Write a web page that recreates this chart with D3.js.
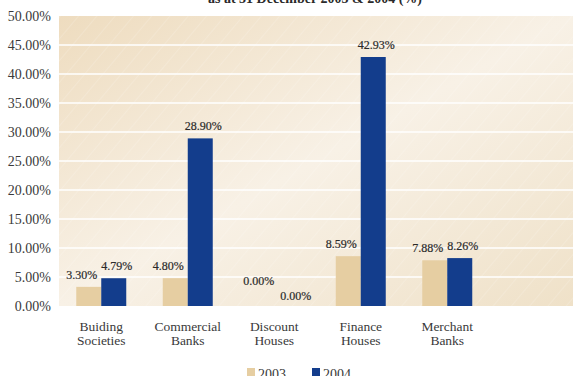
<!DOCTYPE html>
<html>
<head>
<meta charset="utf-8">
<script src="https://cdn.jsdelivr.net/npm/d3@7"></script>
<style>
  body { margin: 0; background: #fff; }
  svg text { font-family: "Liberation Serif", "DejaVu Serif", serif; }
</style>
</head>
<body>
<svg id="chart"></svg>
<script>
const width = 573;
const height = 376;

const categories = [["Buiding", "Societies"], ["Commercial", "Banks"], ["Discount", "Houses"], ["Finance", "Houses"], ["Merchant", "Banks"]];
const years = ["2003", "2004"];
const values2003 = [3.30, 4.80, 0.00, 8.59, 7.88];
const values2004 = [4.79, 28.90, 0.00, 42.93, 8.26];
const yTicks = [0, 5, 10, 15, 20, 25, 30, 35, 40, 45, 50];
const title = "as at 31 December 2003 & 2004 (%)";

const colors = { "2003": "#e6cea2", "2004": "#133d8c" };
const serif = "Liberation Serif";

const svg = d3.select("#chart")
  .attr("width", width)
  .attr("height", height);

const plotLeft = 59, plotRight = 573, plotTop = 16, plotBottom = 306;

const x = d3.scaleBand()
  .domain(d3.range(categories.length))
  .range([58, 490.5]);

const y = d3.scaleLinear()
  .domain([0, 50])
  .range([plotBottom, plotTop]);

const barW = 25;

// background
const defs = svg.append("defs");
const grad = defs.append("linearGradient")
  .attr("id", "bg")
  .attr("x1", "0%").attr("y1", "0%")
  .attr("x2", "100%").attr("y2", "100%");
grad.append("stop").attr("offset", "0%").attr("stop-color", "#eedcbf");
grad.append("stop").attr("offset", "50%").attr("stop-color", "#f8f1e6");
grad.append("stop").attr("offset", "100%").attr("stop-color", "#efe1c8");

const hatch = defs.append("pattern")
  .attr("id", "hatch")
  .attr("width", 14).attr("height", 14)
  .attr("patternUnits", "userSpaceOnUse")
  .attr("patternTransform", "rotate(40)");
hatch.append("line")
  .attr("x1", 0).attr("y1", 0).attr("x2", 0).attr("y2", 14)
  .attr("stroke", "#fff").attr("stroke-width", 1).attr("opacity", 0.3);

svg.append("rect")
  .attr("x", plotLeft).attr("y", plotTop)
  .attr("width", plotRight - plotLeft).attr("height", plotBottom - plotTop)
  .attr("fill", "url(#bg)");
svg.append("rect")
  .attr("x", plotLeft).attr("y", plotTop)
  .attr("width", plotRight - plotLeft).attr("height", plotBottom - plotTop)
  .attr("fill", "url(#hatch)");

// gridlines
svg.selectAll(".grid")
  .data(yTicks.filter(d => d > 0 && d < 50))
  .enter().append("line")
  .attr("x1", plotLeft).attr("x2", plotRight)
  .attr("y1", d => y(d)).attr("y2", d => y(d))
  .attr("stroke", "#fff")
  .attr("stroke-width", 1.5);

// y labels
svg.selectAll(".ylab")
  .data(yTicks)
  .enter().append("text")
  .attr("x", 51)
  .attr("y", d => y(d) + 4.5)
  .attr("text-anchor", "end")
  .attr("font-family", serif)
  .attr("font-size", 14)
  .attr("fill", "#3a3a3a")
  .text(d => d.toFixed(2) + "%");

// bars
const series = [values2003, values2004];
series.forEach((vals, si) => {
  svg.selectAll(".bar" + si)
    .data(vals)
    .enter().append("rect")
    .attr("x", (d, i) => x(i) + x.bandwidth() / 2 - barW + si * barW)
    .attr("y", d => y(d))
    .attr("width", barW)
    .attr("height", d => plotBottom - y(d))
    .attr("fill", colors[years[si]]);

  // zero-valued labels are staggered so the pair does not collide
  svg.selectAll(".val" + si)
    .data(vals)
    .enter().append("text")
    .attr("x", (d, i) => x(i) + x.bandwidth() / 2 - barW / 2 + si * barW
      + (d === 0 ? (si === 0 ? -3 : 9) : (si === 0 ? -7 : 3)))
    .attr("y", d => d === 0 ? y(d) - (si === 0 ? 21 : 6) : y(d) - 8)
    .attr("text-anchor", "middle")
    .attr("font-family", serif)
    .attr("font-size", 12)
    .attr("fill", "#2a2a2a")
    .attr("stroke", "#2a2a2a")
    .attr("stroke-width", 0.2)
    .text(d => d.toFixed(2) + "%");
});

// category labels
const cat = svg.selectAll(".cat")
  .data(categories)
  .enter().append("text")
  .attr("text-anchor", "middle")
  .attr("font-family", serif)
  .attr("font-size", 13.5)
  .attr("fill", "#3a3a3a");
cat.each(function(d, i) {
  const t = d3.select(this);
  d.forEach((line, li) => {
    t.append("tspan")
      .attr("x", x(i) + x.bandwidth() / 2)
      .attr("y", 331 + li * 14)
      .text(line);
  });
});

// title (cut at top)
svg.append("text")
  .attr("x", 315)
  .attr("y", 3)
  .attr("text-anchor", "middle")
  .attr("font-family", serif)
  .attr("font-size", 14)
  .attr("font-weight", "bold")
  .attr("fill", "#2a2a2a")
  .text(title);

// legend
const legendX = [247, 312];
years.forEach((yr, i) => {
  svg.append("rect")
    .attr("x", legendX[i]).attr("y", 368)
    .attr("width", 8).attr("height", 8)
    .attr("fill", colors[yr]);
  svg.append("text")
    .attr("x", legendX[i] + 11)
    .attr("y", 379)
    .attr("font-family", serif)
    .attr("font-size", 14)
    .attr("fill", "#3a3a3a")
    .text(yr);
});
</script>
</body>
</html>
